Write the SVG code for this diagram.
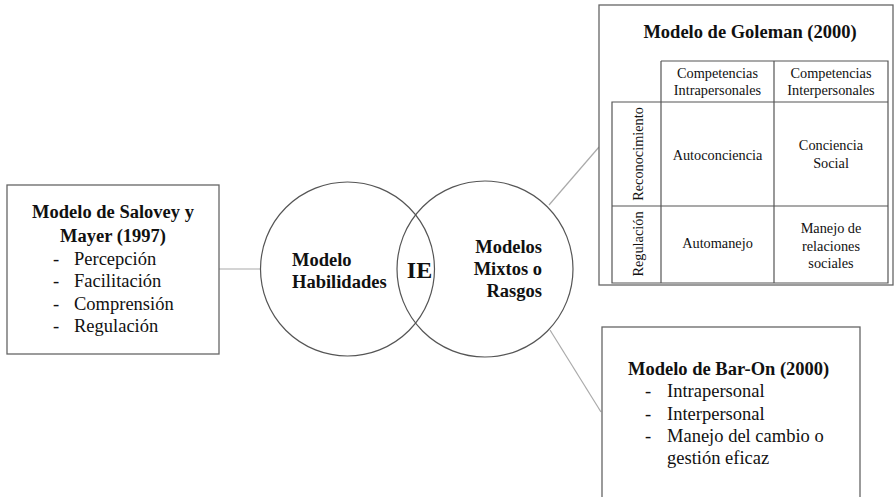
<svg xmlns="http://www.w3.org/2000/svg" width="894" height="497" viewBox="0 0 894 497">
<style>
text{font-family:"Liberation Serif","Times New Roman",serif;fill:#111}
.b{font-weight:bold;font-size:18.5px}
.n{font-size:18.5px}
.t{font-size:14.3px;text-anchor:middle}
.box{fill:#fff;stroke:#666;stroke-width:1.3}
.grid{fill:none;stroke:#555;stroke-width:1.2}
.conn{stroke:#aaa;stroke-width:1.2;fill:none}
.circ{fill:none;stroke:#555;stroke-width:1.2}
</style>
<rect width="894" height="497" fill="#fff"/>
<g id="connectors">
<line class="conn" x1="219" y1="269" x2="260" y2="269"/>
<line class="conn" x1="549" y1="205" x2="599" y2="147"/>
<line class="conn" x1="550" y1="330" x2="601" y2="412"/>
</g>
<g id="salovey">
<rect class="box" x="7" y="185" width="212" height="169"/>
<text class="b" x="113" y="218" text-anchor="middle">Modelo de Salovey y</text>
<text class="b" x="113" y="242" text-anchor="middle">Mayer (1997)</text>
<text class="n" x="53" y="265">-</text><text class="n" x="74" y="265">Percepción</text>
<text class="n" x="53" y="287">-</text><text class="n" x="74" y="287">Facilitación</text>
<text class="n" x="53" y="310">-</text><text class="n" x="74" y="310">Comprensión</text>
<text class="n" x="53" y="332">-</text><text class="n" x="74" y="332">Regulación</text>
</g>
<g id="habilidades">
<circle class="circ" cx="347.5" cy="269" r="87"/>
<text class="b" x="292" y="266">Modelo</text>
<text class="b" x="292" y="288">Habilidades</text>
</g>
<g id="mixtos">
<circle class="circ" cx="485" cy="269" r="88"/>
<text class="b" x="542" y="253" text-anchor="end">Modelos</text>
<text class="b" x="542" y="275" text-anchor="end">Mixtos o</text>
<text class="b" x="542" y="297" text-anchor="end">Rasgos</text>
</g>
<g id="ie">
<text x="419.5" y="278" text-anchor="middle" style="font-weight:bold;font-size:24px">IE</text>
</g>
<g id="goleman">
<rect class="box" x="599" y="5" width="294" height="280"/>
<text class="b" x="750" y="38" text-anchor="middle">Modelo de Goleman (2000)</text>
<path class="grid" d="M661 61H888V283H612V102H888M661 61V283M774 61V283M612 206H888"/>
<text class="t" x="717.5" y="78">Competencias</text>
<text class="t" x="717.5" y="95">Intrapersonales</text>
<text class="t" x="831" y="78">Competencias</text>
<text class="t" x="831" y="95">Interpersonales</text>
<text class="t" transform="translate(643 154) rotate(-90)">Reconocimiento</text>
<text class="t" transform="translate(643 244) rotate(-90)">Regulación</text>
<text class="t" x="717.5" y="160">Autoconciencia</text>
<text class="t" x="831" y="150">Conciencia</text>
<text class="t" x="831" y="168">Social</text>
<text class="t" x="717.5" y="248">Automanejo</text>
<text class="t" x="831" y="233">Manejo de</text>
<text class="t" x="831" y="251">relaciones</text>
<text class="t" x="831" y="268">sociales</text>
</g>
<g id="baron">
<rect class="box" x="602" y="327" width="258" height="180"/>
<text class="b" x="628" y="375">Modelo de Bar-On (2000)</text>
<text class="n" x="645" y="397">-</text><text class="n" x="667" y="397">Intrapersonal</text>
<text class="n" x="645" y="420">-</text><text class="n" x="667" y="420">Interpersonal</text>
<text class="n" x="645" y="442">-</text><text class="n" x="667" y="442">Manejo del cambio o</text>
<text class="n" x="667" y="464">gestión eficaz</text>
</g>
</svg>
